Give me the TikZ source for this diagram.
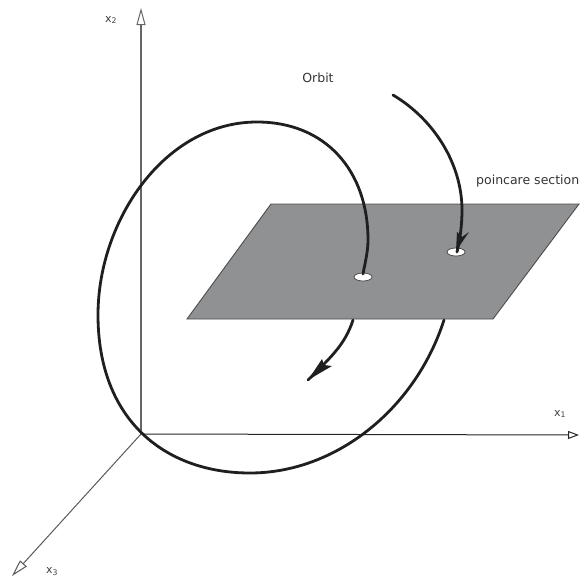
\documentclass[tikz,border=0pt]{standalone}
\usepackage{fontspec}
\setmainfont{DejaVu Sans}
\usetikzlibrary{arrows.meta}
\definecolor{planegray}{RGB}{143,145,147}
\tikzset{
  axishead/.style={-{Triangle[open,fill=white,length=17pt,width=9pt,line width=1pt]}},
  orbit/.style={draw=black!88,line width=2.8pt,line cap=round},
  hole/.style={draw=black!75,fill=white,line width=0.7pt},
  lbl/.style={font=\fontsize{12.5}{15}\selectfont,text=black!80,inner sep=0pt},
  axlbl/.style={font=\fontsize{11}{13}\selectfont,text=black!75,inner sep=0pt},
  head/.style={fill=black!88,draw=none}
}
\begin{document}
\begin{tikzpicture}[x=1pt,y=-1pt]
\useasboundingbox (0,0) rectangle (579,581);
\coordinate (o) at (141,434);
\coordinate (x2) at (141,8);
\coordinate (x1) at (579,435);
\coordinate (x3) at (12,576);
\draw[axishead,draw=black!60,line width=1.6pt] (o) -- (x2);
\draw[-{Triangle[open,fill=white,length=11pt,width=8pt,line width=1pt]},draw=black!85,line width=1pt] (o) -- (x1);
\draw[axishead,draw=black!65,line width=1pt] (o) -- (x3);
\node[axlbl] at (111,20) {x\textsubscript{2}};
\node[axlbl] at (560,414) {x\textsubscript{1}};
\node[axlbl] at (52,572) {x\textsubscript{3}};
\node[lbl] at (318,78) {Orbit};
\node[lbl,anchor=west] at (476,181) {poincare section};
\draw[fill=planegray,draw=black!70,line width=0.9pt] (271,204) -- (579,204) -- (493,319) -- (187,319) -- cycle;
\draw[hole] (363,277) ellipse (9 and 4);
\draw[hole] (456,252) ellipse (9 and 4);
\draw[orbit] (363,274) .. controls (365,263) and (368,252) .. (368,240)
  .. controls (368,170) and (325,122) .. (257,122)
  .. controls (165,122) and (98,220) .. (98,315)
  .. controls (98,420) and (165,473) .. (250,473)
  .. controls (335,473) and (415,410) .. (444,320);
\draw[orbit] (393,95) .. controls (435,120) and (462,165) .. (462,210)
  .. controls (462,225) and (460,240) .. (457,252);
\fill[head] (456,251) -- (457,232) -- (462,237) -- (469,232) -- cycle;
\draw[orbit] (353,320) .. controls (345,345) and (330,358) .. (308,380);
\fill[head] (308,380) -- (322,359) -- (324,365) -- (332,366) -- cycle;
\end{tikzpicture}
\end{document}
